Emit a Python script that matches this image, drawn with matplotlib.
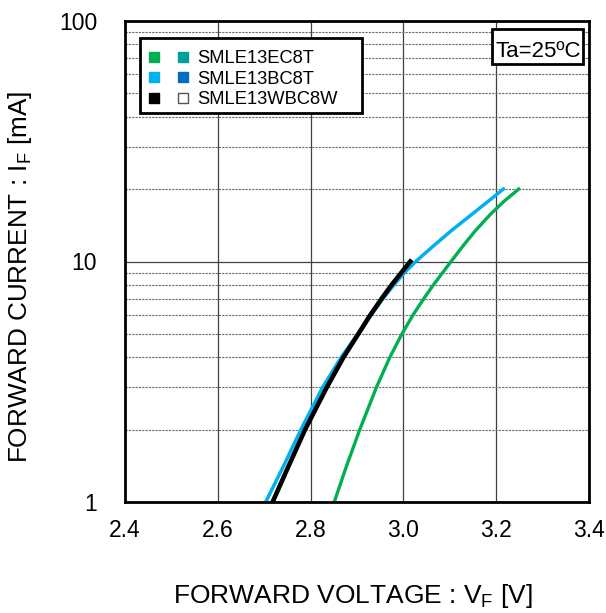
import matplotlib
matplotlib.use("Agg")
import matplotlib.pyplot as plt
from matplotlib.lines import Line2D
from matplotlib.patches import Rectangle
from matplotlib.legend_handler import HandlerTuple
from matplotlib.ticker import FixedLocator, NullFormatter

plt.rcParams['font.family'] = ['Liberation Sans', 'DejaVu Sans']
plt.rcParams['mathtext.fontset'] = 'custom'
plt.rcParams['mathtext.rm'] = 'Liberation Sans'
plt.rcParams['mathtext.default'] = 'regular'

# Data
ec_current = [1, 1.404, 2, 3, 4, 5, 6, 7, 8, 9, 10, 11.43, 13.4, 15.71, 17.84, 20]
ec_voltage = [2.851, 2.877, 2.906, 2.942, 2.971, 2.997, 3.021, 3.044, 3.065, 3.085, 3.103, 3.126, 3.155, 3.188, 3.218, 3.249]
bc_current = [1, 1.404, 2, 3, 4, 5, 6, 7, 8, 9, 10, 11.43, 13.4, 15.71, 17.84, 20]
bc_voltage = [2.703, 2.741, 2.779, 2.826, 2.866, 2.902, 2.931, 2.956, 2.980, 3.003, 3.027, 3.061, 3.103, 3.148, 3.184, 3.216]
wbc_current = [1, 1.404, 2, 3, 4, 5, 6, 7, 8, 9, 10]
wbc_voltage = [2.718, 2.752, 2.788, 2.835, 2.871, 2.903, 2.929, 2.953, 2.975, 2.996, 3.015]

series_names = ["SMLE13EC8T", "SMLE13BC8T", "SMLE13WBC8W"]
x_ticks = [2.4, 2.6, 2.8, 3.0, 3.2, 3.4]
x_ticklabels = ["2.4", "2.6", "2.8", "3.0", "3.2", "3.4"]
y_ticks = [1, 10, 100]
y_ticklabels = ["1", "10", "100"]

fig = plt.figure(figsize=(6.06, 6.13), dpi=100)
ax = fig.add_axes([125/606, 1 - 502.3/613, 463.8/606, 481.6/613])

ax.set_yscale('log')
ax.set_xlim(2.4, 3.4)
ax.set_ylim(1, 100)

# grid
minor_y = [m * d for d in (1, 10) for m in range(2, 10)]
ax.yaxis.set_minor_locator(FixedLocator(minor_y))
ax.yaxis.set_minor_formatter(NullFormatter())
ax.set_xticks(x_ticks)
ax.set_xticklabels(x_ticklabels)
ax.set_yticks(y_ticks)
ax.set_yticklabels(y_ticklabels)
ax.grid(True, which='major', axis='both', color='#404040', linewidth=0.9, linestyle='-')
ax.grid(True, which='minor', axis='y', color='#6a6a6a', linewidth=0.8, linestyle=(0, (2, 1)))
ax.set_axisbelow(True)

ax.tick_params(which='both', length=0)
ax.tick_params(axis='x', labelsize=16.5, pad=12)
ax.tick_params(axis='y', labelsize=16.5, pad=20)

for sp in ax.spines.values():
    sp.set_linewidth(2.0)
    sp.set_color('black')

ax.plot(ec_voltage, ec_current, color='#00B050', linewidth=2.4)
ax.plot(bc_voltage, bc_current, color='#00B0F0', linewidth=2.5)
ax.plot(wbc_voltage, wbc_current, color='black', linewidth=3.3)

ax.set_xlabel("FORWARD VOLTAGE : V$_{F}$ [V]", fontsize=19)
ax.xaxis.set_label_coords(0.4916, -0.165)
ax.set_ylabel("FORWARD CURRENT : I$_{F}$ [mA]", fontsize=18.8)
ax.yaxis.set_label_coords(-0.196, 0.468)

# legend frame
ax.add_patch(Rectangle((0.0323, 0.8077), 0.5104 - 0.0323, 0.9635 - 0.8077, transform=ax.transAxes,
                       facecolor='white', edgecolor='black', linewidth=2.0, zorder=4))

def sq(c, ec=None):
    return Line2D([], [], linestyle='none', marker='s', markersize=7.6,
                  markerfacecolor=c, markeredgecolor=ec if ec else c, markeredgewidth=1.0)

handles = [
    (sq('#00B050'), sq('#00A19A')),
    (sq('#00B0F0'), sq('#006FBF')),
    (sq('#000000'), sq('white', '#555555')),
]
leg = ax.legend(handles, series_names, handler_map={tuple: HandlerTuple(ndivide=None, pad=0.93)},
                loc='upper left', bbox_to_anchor=(0.0323, 0.9548), borderaxespad=0,
                fontsize=13.2, handlelength=2.24, handletextpad=0.48, labelspacing=0.19,
                borderpad=0.42, frameon=False)
leg.set_zorder(5)

# condition box
ax.add_patch(Rectangle((0.7906, 0.9101), 0.9869 - 0.7906, 0.9821 - 0.9101, transform=ax.transAxes,
                       facecolor='white', edgecolor='black', linewidth=2.0, zorder=4))
ax.text(0.7998, 0.9252, "Ta=25ºC", transform=ax.transAxes, ha='left', va='baseline',
        fontsize=16, zorder=5)

fig.savefig("out.png", dpi=100)
